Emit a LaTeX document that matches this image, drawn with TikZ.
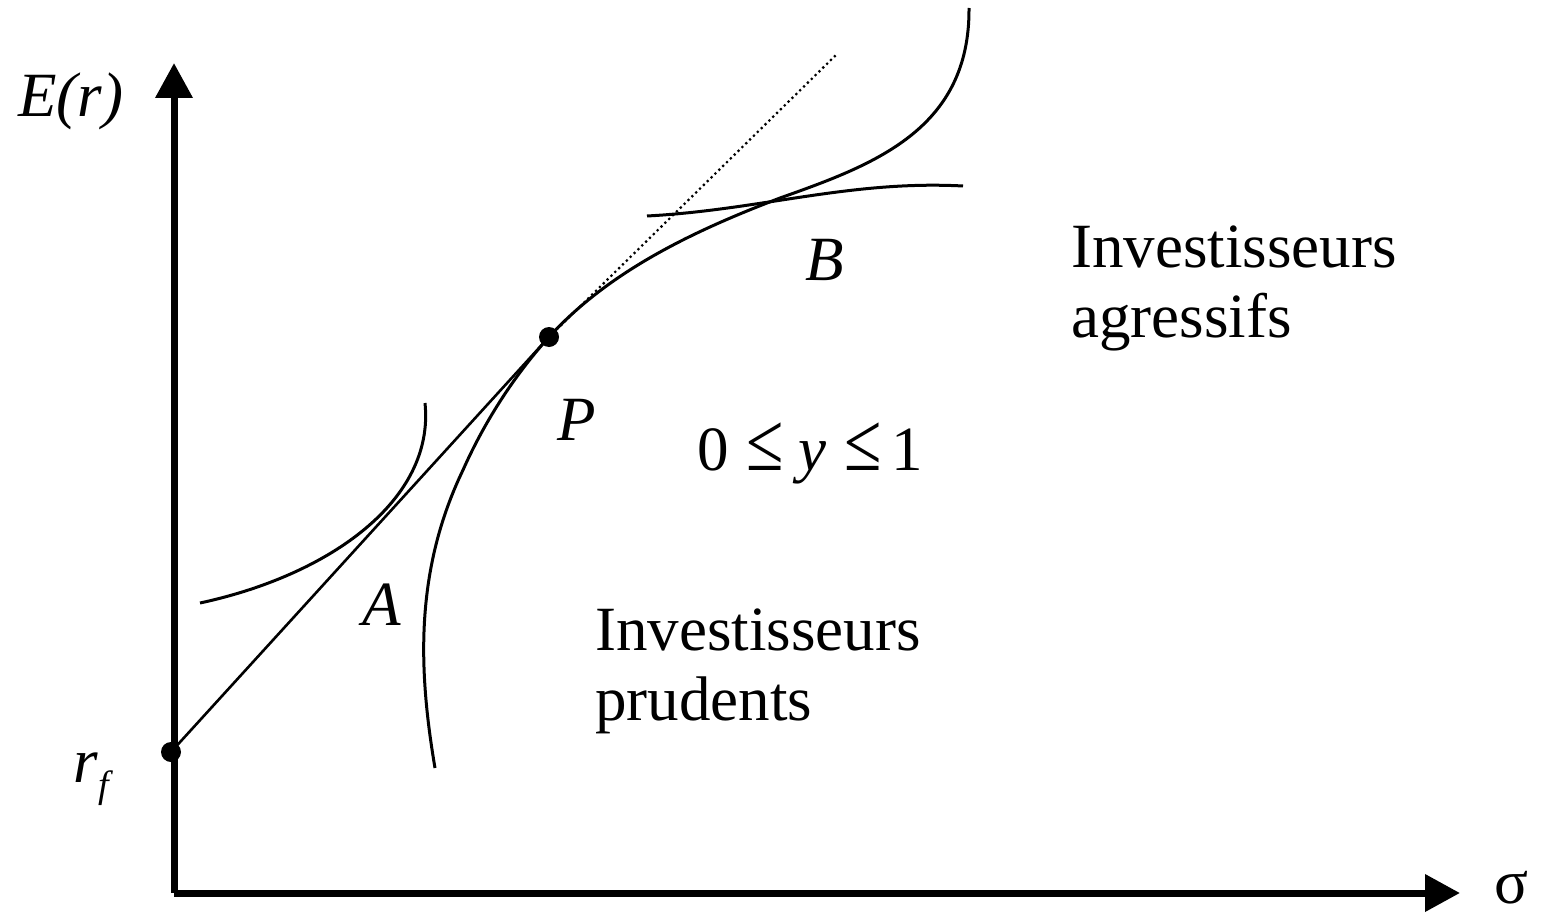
\documentclass[tikz,border=0pt]{standalone}
\usepackage{fontspec}
\setmainfont{Liberation Serif}
\usetikzlibrary{arrows.meta}
\tikzset{
  axis/.style={line width=3.5pt, -{Triangle[length=17.5pt,width=18pt]}},
  curve/.style={line width=1.5pt},
  cal/.style={line width=1.3pt},
  dotline/.style={line width=1.1pt, dash pattern=on 1.1pt off 1.6pt},
  pt/.style={circle, fill=black, inner sep=0pt, minimum size=10pt},
  lbl/.style={inner sep=0pt, anchor=base west, font=\fontsize{31.5}{35}\selectfont},
}
\newcommand{\bigleq}{\scalebox{1.08}[1.32]{≤}}
\begin{document}
\begin{tikzpicture}[x=0.5pt, y=-0.5pt]
\useasboundingbox (0,0) rectangle (1541,915);
% axes
\coordinate (O) at (174,893);
\coordinate (Ytip) at (174,63);
\coordinate (Xtip) at (1460,893);
\draw[axis] (O) -- (Ytip);
\draw[axis] (O) -- (Xtip);
% points
\node[pt] (rf) at (171,752) {};
\node[pt] (P) at (549,337) {};
\coordinate (D) at (836,55);
% capital allocation line
\draw[cal] (rf.center) -- (P.center);
\draw[dotline] (P.center) -- (D);
% efficient frontier
\draw[curve] (435,768) .. controls (418,668) and (415,570) .. (463,470)
  .. controls (483,425) and (512,378) .. (P.center)
  .. controls (610,270) and (696,230) .. (780,198)
  .. controls (873,165) and (970,130) .. (969,8);
% indifference curve A
\draw[curve] (200,603) .. controls (330,575) and (435,500) .. (425,403);
% indifference curve B
\draw[curve] (647,216) .. controls (760,210) and (850,180) .. (963,186);
% labels
\node[lbl] (Er) at (18,117) {\textit{E(r)}};
\node[lbl] (rflbl) at (73,782) {\textit{r}\raisebox{-7.5pt}{\fontsize{19}{20}\selectfont\textit{f}}};
\node[lbl] (sig) at (1494,903) {σ};
\node[lbl] (Blbl) at (805,280) {\textit{B}};
\node[lbl] (Plbl) at (557,440) {\textit{P}};
\node[lbl] (Albl) at (362,625) {\textit{A}};
\node[lbl] (ineq) at (697,470) {0\hspace{9pt}\bigleq\hspace{7pt}\textit{y}\hspace{9pt}\bigleq\hspace{5pt}1};
\node[lbl] (agr1) at (1071,267) {Investisseurs};
\node[lbl] (agr2) at (1071,337) {agressifs};
\node[lbl] (pru1) at (595,650) {Investisseurs};
\node[lbl] (pru2) at (595,720) {prudents};
\end{tikzpicture}
\end{document}
